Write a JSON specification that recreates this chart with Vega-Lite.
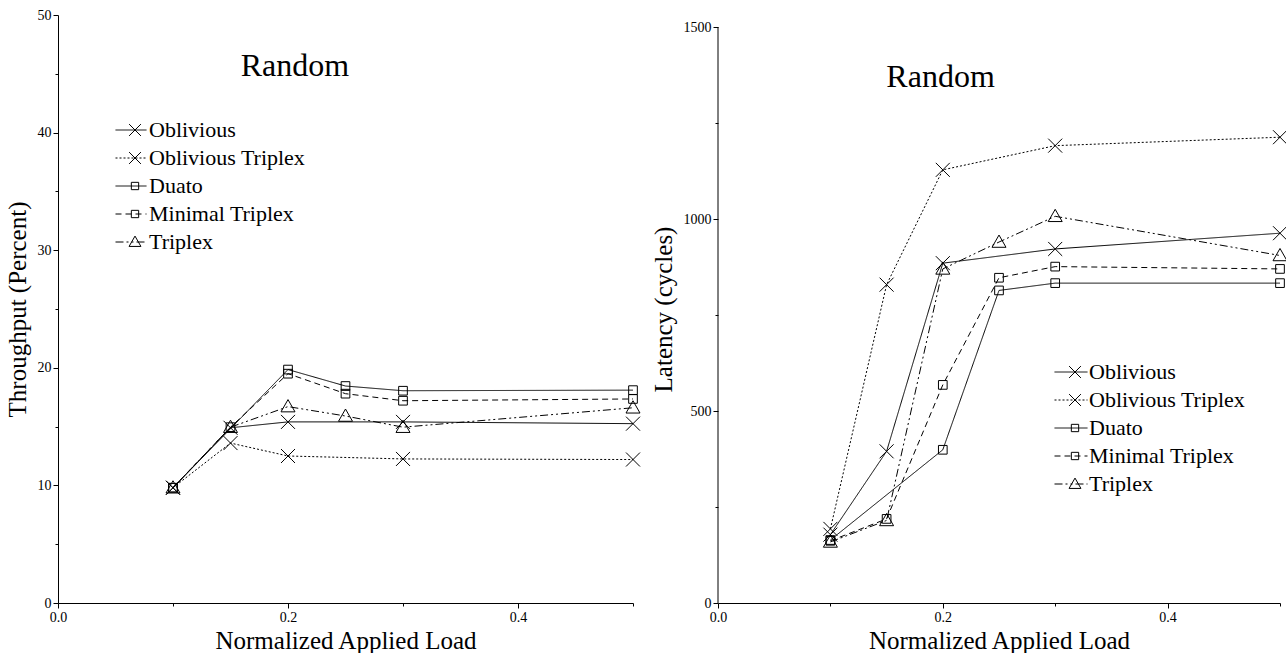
{
  "$schema": "https://vega.github.io/schema/vega-lite/v6.json",
  "background": "white",
  "padding": {"left": 5, "top": 8, "right": 0, "bottom": 0},
  "spacing": 9,
  "resolve": {
    "scale": {"strokeDash": "independent", "shape": "independent"},
    "legend": {"strokeDash": "independent", "shape": "independent"}
  },
  "config": {
    "font": "Liberation Serif",
    "view": {"stroke": null},
    "axis": {
      "domainColor": "black",
      "tickColor": "black",
      "labelColor": "black",
      "titleColor": "black",
      "labelFont": "Liberation Serif",
      "titleFont": "Liberation Serif",
      "labelFontSize": 14,
      "titleFontSize": 25,
      "titleFontWeight": "normal",
      "grid": false,
      "labelPadding": 2
    },
    "legend": {
      "labelFont": "Liberation Serif",
      "labelFontSize": 22,
      "labelColor": "black"
    }
  },
  "datasets": {
    "throughput": [
      {"series": "Oblivious", "load": 0.1, "value": 9.8},
      {"series": "Oblivious", "load": 0.15, "value": 14.9},
      {"series": "Oblivious", "load": 0.2, "value": 15.4},
      {"series": "Oblivious", "load": 0.3, "value": 15.4},
      {"series": "Oblivious", "load": 0.5, "value": 15.25},
      {"series": "Oblivious Triplex", "load": 0.1, "value": 9.8},
      {"series": "Oblivious Triplex", "load": 0.15, "value": 13.6},
      {"series": "Oblivious Triplex", "load": 0.2, "value": 12.5},
      {"series": "Oblivious Triplex", "load": 0.3, "value": 12.25},
      {"series": "Oblivious Triplex", "load": 0.5, "value": 12.2},
      {"series": "Duato", "load": 0.1, "value": 9.8},
      {"series": "Duato", "load": 0.2, "value": 19.85},
      {"series": "Duato", "load": 0.25, "value": 18.45},
      {"series": "Duato", "load": 0.3, "value": 18.05},
      {"series": "Duato", "load": 0.5, "value": 18.1},
      {"series": "Minimal Triplex", "load": 0.1, "value": 9.8},
      {"series": "Minimal Triplex", "load": 0.15, "value": 14.95},
      {"series": "Minimal Triplex", "load": 0.2, "value": 19.5},
      {"series": "Minimal Triplex", "load": 0.25, "value": 17.8},
      {"series": "Minimal Triplex", "load": 0.3, "value": 17.2},
      {"series": "Minimal Triplex", "load": 0.5, "value": 17.35},
      {"series": "Triplex", "load": 0.1, "value": 9.8},
      {"series": "Triplex", "load": 0.15, "value": 14.95},
      {"series": "Triplex", "load": 0.2, "value": 16.7},
      {"series": "Triplex", "load": 0.25, "value": 15.9},
      {"series": "Triplex", "load": 0.3, "value": 14.95},
      {"series": "Triplex", "load": 0.5, "value": 16.6}
    ],
    "latency": [
      {"series": "Oblivious", "load": 0.1, "value": 178},
      {"series": "Oblivious", "load": 0.15, "value": 395},
      {"series": "Oblivious", "load": 0.2, "value": 885},
      {"series": "Oblivious", "load": 0.3, "value": 922},
      {"series": "Oblivious", "load": 0.5, "value": 963},
      {"series": "Oblivious Triplex", "load": 0.1, "value": 193},
      {"series": "Oblivious Triplex", "load": 0.15, "value": 829},
      {"series": "Oblivious Triplex", "load": 0.2, "value": 1128},
      {"series": "Oblivious Triplex", "load": 0.3, "value": 1191},
      {"series": "Oblivious Triplex", "load": 0.5, "value": 1213},
      {"series": "Duato", "load": 0.1, "value": 164},
      {"series": "Duato", "load": 0.2, "value": 399},
      {"series": "Duato", "load": 0.25, "value": 814},
      {"series": "Duato", "load": 0.3, "value": 833},
      {"series": "Duato", "load": 0.5, "value": 833},
      {"series": "Minimal Triplex", "load": 0.1, "value": 162},
      {"series": "Minimal Triplex", "load": 0.15, "value": 219},
      {"series": "Minimal Triplex", "load": 0.2, "value": 568},
      {"series": "Minimal Triplex", "load": 0.25, "value": 847},
      {"series": "Minimal Triplex", "load": 0.3, "value": 876},
      {"series": "Minimal Triplex", "load": 0.5, "value": 870},
      {"series": "Triplex", "load": 0.1, "value": 159},
      {"series": "Triplex", "load": 0.15, "value": 215},
      {"series": "Triplex", "load": 0.2, "value": 870},
      {"series": "Triplex", "load": 0.25, "value": 940},
      {"series": "Triplex", "load": 0.3, "value": 1007},
      {"series": "Triplex", "load": 0.5, "value": 905}
    ]
  },
  "hconcat": [
    {
      "width": 575,
      "height": 588,
      "data": {"name": "throughput"},
      "layer": [
        {
          "mark": {"type": "line", "color": "black", "strokeWidth": 1},
          "encoding": {
            "x": {
              "field": "load", "type": "quantitative",
              "scale": {"domain": [0, 0.5], "nice": false, "zero": false},
              "axis": {
                "title": "Normalized Applied Load",
                "values": [0, 0.1, 0.2, 0.3, 0.4, 0.5],
                "format": ".1f",
                "labelExpr": "indexof(['0.0','0.2','0.4'], datum.label) >= 0 ? datum.label : ''",
                "tickSize": {"condition": {"test": "indexof([0, 0.2, 0.4], datum.value) >= 0", "value": 5}, "value": 3},
                "labelFlush": false,
                "labelOverlap": false,
                "titlePadding": 4
              }
            },
            "y": {
              "field": "value", "type": "quantitative",
              "scale": {"domain": [0, 50], "nice": false},
              "axis": {
                "title": "Throughput (Percent)",
                "values": [0, 5, 10, 15, 20, 25, 30, 35, 40, 45, 50],
                "labelExpr": "datum.value % 10 === 0 ? datum.label : ''",
                "tickSize": {"condition": {"test": "datum.value % 10 === 0", "value": 5}, "value": 3},
                "labelFlush": false,
                "labelOverlap": false,
                "titlePadding": 7
              }
            },
            "strokeDash": {
              "field": "series", "type": "nominal",
              "scale": {
                "domain": ["Oblivious", "Oblivious Triplex", "Duato", "Minimal Triplex", "Triplex"],
                "range": [[1, 0], [2, 2], [1, 0], [6, 4], [8, 3, 2, 3, 2, 3]]
              },
              "legend": {
                "title": null,
                "orient": "none",
                "legendX": 57,
                "legendY": 104,
                "padding": 0,
                "symbolType": "stroke",
                "symbolSize": 961,
                "symbolStrokeColor": "black",
                "symbolStrokeWidth": 1,
                "clipHeight": 22,
                "rowPadding": 6,
                "labelOffset": 2
              }
            },
            "order": {"field": "load", "type": "quantitative"}
          }
        },
        {
          "mark": {"type": "point", "filled": false, "stroke": "black", "strokeWidth": 1, "opacity": 1, "size": 196},
          "encoding": {
            "x": {"field": "load", "type": "quantitative"},
            "y": {"field": "value", "type": "quantitative"},
            "shape": {
              "field": "series", "type": "nominal",
              "sort": ["Oblivious", "Oblivious Triplex", "Duato", "Minimal Triplex", "Triplex"],
              "scale": {
                "range": [
                  "M-1,-1L1,1M-1,1L1,-1",
                  "M-1,-1L1,1M-1,1L1,-1",
                  "M-0.62,-0.62H0.62V0.62H-0.62Z",
                  "M-0.62,-0.62H0.62V0.62H-0.62Z",
                  "M0,-1L1,0.75H-1Z"
                ]
              },
              "legend": {
                "title": null,
                "orient": "none",
                "legendX": 66,
                "legendY": 104,
                "padding": 0,
                "symbolSize": 140,
                "symbolStrokeColor": "black",
                "symbolStrokeWidth": 1,
                "clipHeight": 22,
                "rowPadding": 6,
                "labelExpr": "''"
              }
            }
          }
        },
        {
          "data": {"values": [{"label": "Random"}]},
          "mark": {"type": "text", "fontSize": 32, "font": "Liberation Serif", "color": "black"},
          "encoding": {
            "x": {"datum": 0.206},
            "y": {"datum": 45.7},
            "text": {"field": "label", "type": "nominal"}
          }
        }
      ]
    },
    {
      "width": 562,
      "height": 588,
      "data": {"name": "latency"},
      "layer": [
        {
          "mark": {"type": "line", "color": "black", "strokeWidth": 1},
          "encoding": {
            "x": {
              "field": "load", "type": "quantitative",
              "scale": {"domain": [0, 0.5], "nice": false, "zero": false},
              "axis": {
                "title": "Normalized Applied Load",
                "values": [0, 0.1, 0.2, 0.3, 0.4, 0.5],
                "format": ".1f",
                "labelExpr": "indexof(['0.0','0.2','0.4'], datum.label) >= 0 ? datum.label : ''",
                "tickSize": {"condition": {"test": "indexof([0, 0.2, 0.4], datum.value) >= 0", "value": 5}, "value": 3},
                "labelFlush": false,
                "labelOverlap": false,
                "titlePadding": 4
              }
            },
            "y": {
              "field": "value", "type": "quantitative",
              "scale": {"domain": [0, 1531.25], "nice": false},
              "axis": {
                "title": "Latency (cycles)",
                "domain": false,
                "values": [0, 250, 500, 750, 1000, 1250, 1500],
                "labelExpr": "datum.value % 500 === 0 ? datum.label : ''",
                "format": "d",
                "tickSize": {"condition": {"test": "datum.value % 500 === 0", "value": 5}, "value": 3},
                "labelFlush": false,
                "labelOverlap": false,
                "titlePadding": 7
              }
            },
            "strokeDash": {
              "field": "series", "type": "nominal",
              "scale": {
                "domain": ["Oblivious", "Oblivious Triplex", "Duato", "Minimal Triplex", "Triplex"],
                "range": [[1, 0], [2, 2], [1, 0], [6, 4], [8, 3, 2, 3, 2, 3]]
              },
              "legend": {
                "title": null,
                "orient": "none",
                "legendX": 336,
                "legendY": 346,
                "padding": 0,
                "symbolType": "stroke",
                "symbolSize": 1089,
                "symbolStrokeColor": "black",
                "symbolStrokeWidth": 1,
                "clipHeight": 22,
                "rowPadding": 6,
                "labelOffset": 1
              }
            },
            "order": {"field": "load", "type": "quantitative"}
          }
        },
        {
          "mark": {"type": "point", "filled": false, "stroke": "black", "strokeWidth": 1, "opacity": 1, "size": 196},
          "encoding": {
            "x": {"field": "load", "type": "quantitative"},
            "y": {"field": "value", "type": "quantitative"},
            "shape": {
              "field": "series", "type": "nominal",
              "sort": ["Oblivious", "Oblivious Triplex", "Duato", "Minimal Triplex", "Triplex"],
              "scale": {
                "range": [
                  "M-1,-1L1,1M-1,1L1,-1",
                  "M-1,-1L1,1M-1,1L1,-1",
                  "M-0.62,-0.62H0.62V0.62H-0.62Z",
                  "M-0.62,-0.62H0.62V0.62H-0.62Z",
                  "M0,-1L1,0.75H-1Z"
                ]
              },
              "legend": {
                "title": null,
                "orient": "none",
                "legendX": 346,
                "legendY": 346,
                "padding": 0,
                "symbolSize": 140,
                "symbolStrokeColor": "black",
                "symbolStrokeWidth": 1,
                "clipHeight": 22,
                "rowPadding": 6,
                "labelExpr": "''"
              }
            }
          }
        },
        {
          "data": {"values": [{"label": "Random"}]},
          "mark": {"type": "text", "fontSize": 32, "font": "Liberation Serif", "color": "black"},
          "encoding": {
            "x": {"datum": 0.198},
            "y": {"datum": 1370},
            "text": {"field": "label", "type": "nominal"}
          }
        },
        {
          "data": {"values": [{"from": 0, "to": 1500}]},
          "mark": {"type": "rule", "color": "black", "strokeWidth": 1},
          "encoding": {
            "x": {"datum": 0},
            "y": {"field": "from", "type": "quantitative"},
            "y2": {"field": "to"}
          }
        }
      ]
    }
  ]
}
